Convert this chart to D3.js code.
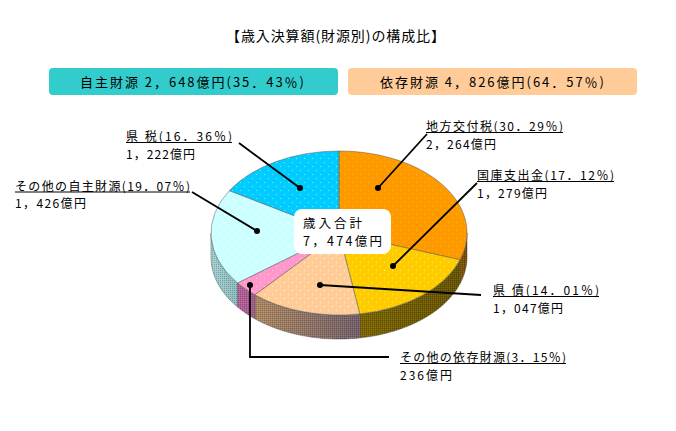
<!DOCTYPE html>
<html>
<head>
<meta charset="utf-8">
<script src="https://cdn.jsdelivr.net/npm/d3@7"></script>
<style>
  html, body { margin: 0; padding: 0; background: #fff; }
  svg { display: block; }
  text { font-family: "Noto Sans CJK JP", sans-serif; fill: #000; font-size: 12px; }
</style>
</head>
<body>
<svg width="676" height="431"></svg>
<script>
const categories = ["地方交付税", "国庫支出金", "県 債", "その他の依存財源", "その他の自主財源", "県 税"];
const amounts = [2264, 1279, 1047, 236, 1426, 1222];
const amountLabels = ["2，264億円", "1，279億円", "1，047億円", "236億円", "1，426億円", "1，222億円"];
const shareLabels = ["30．29％", "17．12％", "14．01％", "3．15％", "19．07％", "16．36％"];
const topColors = ["#ff9900", "#ffcc00", "#ffcc99", "#ff99cc", "#ccffff", "#00ccff"];
const dotColors = ["#ffc400", "#ffee55", "#ffffaa", "#ffccee", "#ffffff", "#88e6ff"];
const wallFrom = ["#8a5600", "#7c6500", "#ae8a62", "#b8609c", "#a2d2d2", "#0090b8"];
const wallTo = ["#6e4c00", "#665400", "#74606a", "#a85a90", "#8cbcc0", "#0090b8"];

const svg = d3.select("svg");
const cx = 339, cy = 233, rx = 128, ry = 82, depth = 24;

const defs = svg.append("defs");

// dotted fills for the top faces, undoing the squash of the pie group
topColors.forEach((c, i) => {
  const p = defs.append("pattern").attr("id", "top" + i)
    .attr("width", 8).attr("height", 8).attr("patternUnits", "userSpaceOnUse")
    .attr("patternTransform", `scale(1,${rx / ry})`);
  p.append("rect").attr("width", 8).attr("height", 8).attr("fill", c);
  p.append("rect").attr("x", 1).attr("y", 1).attr("width", 1).attr("height", 1).attr("fill", dotColors[i]);
  p.append("rect").attr("x", 5).attr("y", 5).attr("width", 1).attr("height", 1).attr("fill", dotColors[i]);
});

// checker dither laid over the wall colours
const dither = defs.append("pattern").attr("id", "dither")
  .attr("width", 2).attr("height", 2).attr("patternUnits", "userSpaceOnUse");
dither.append("rect").attr("width", 1).attr("height", 1).attr("fill", "#000").attr("opacity", 0.2);
dither.append("rect").attr("x", 1).attr("y", 1).attr("width", 1).attr("height", 1).attr("fill", "#fff").attr("opacity", 0.1);

const pie = d3.pie().sort(null);
const slices = pie(amounts);
const arc = d3.arc().innerRadius(0).outerRadius(rx);

// point on the rim of the top ellipse, angle from 12 o'clock clockwise
const rim = (a, dy) => [cx + rx * Math.sin(a), cy - ry * Math.cos(a) + dy];

// wall, only the part of each slice facing the viewer
const wall = svg.append("g");
slices.forEach((s, i) => {
  const a0 = Math.max(s.startAngle, Math.PI / 2);
  const a1 = Math.min(s.endAngle, Math.PI * 1.5);
  if (a1 <= a0) return;
  const steps = d3.range(0, 41).map(k => a0 + (a1 - a0) * k / 40);
  const pts = steps.map(a => rim(a, 0)).concat(steps.slice().reverse().map(a => rim(a, depth)));
  const d = d3.line()(pts) + "Z";
  const g = defs.append("linearGradient").attr("id", "wall" + i)
    .attr("gradientUnits", "userSpaceOnUse")
    .attr("x1", rim(a1, 0)[0]).attr("x2", rim(a0, 0)[0]).attr("y1", 0).attr("y2", 0);
  g.append("stop").attr("offset", 0).attr("stop-color", wallFrom[i]);
  g.append("stop").attr("offset", 1).attr("stop-color", wallTo[i]);
  wall.append("path").attr("d", d).attr("fill", `url(#wall${i})`)
    .attr("stroke", "#555").attr("stroke-width", 0.5);
  wall.append("path").attr("d", d).attr("fill", "url(#dither)");
});

// top faces
svg.append("g")
  .attr("transform", `translate(${cx},${cy}) scale(1,${ry / rx})`)
  .selectAll("path")
  .data(slices)
  .enter().append("path")
  .attr("d", arc)
  .attr("fill", (d, i) => `url(#top${i})`)
  .attr("stroke", "#555")
  .attr("stroke-width", 0.6);

// text spaced out to the width it has in the picture
function label(x, y, w, str, size) {
  return svg.append("text").attr("x", x).attr("y", y)
    .attr("textLength", w).attr("lengthAdjust", "spacing")
    .style("font-size", (size || 12) + "px").text(str);
}

// title and the two source boxes
label(226, 41, 219, "【歳入決算額(財源別)の構成比】", 14);

const boxes = [
  { x: 49, w: 289, fill: "#33cccc", tx: 80, label: "自主財源 2，648億円(35．43％)" },
  { x: 348, w: 289, fill: "#ffcc99", tx: 380, label: "依存財源 4，826億円(64．57％)" }
];
boxes.forEach(b => {
  svg.append("rect").attr("x", b.x).attr("y", 68).attr("width", b.w).attr("height", 27)
    .attr("rx", 4).attr("fill", b.fill);
  label(b.tx, 87, 224, b.label, 13);
});

// leader lines and labels
const labels = [
  { x: 426, y: 131, w: 137, aw: 70, dot: [378, 188], path: [[427, 134], [378, 188]] },
  { x: 477, y: 180, w: 137, aw: 70, dot: [393, 266], path: [[477, 183], [393, 266]] },
  { x: 493, y: 295, w: 106, aw: 70, dot: [320, 285], path: [[481, 295], [320, 285]] },
  { x: 400, y: 362, w: 166, aw: 52, dot: [250, 285], path: [[389, 357], [250, 357], [250, 285]] },
  { x: 15, y: 190.5, w: 175, aw: 71, dot: [257, 231], path: [[192, 192], [257, 231]] },
  { x: 126, y: 141, w: 106, aw: 69, dot: [300, 188], path: [[239, 143], [300, 188]] }
];
const lineGen = d3.line();
labels.forEach((l, i) => {
  svg.append("path").attr("d", lineGen(l.path)).attr("fill", "none")
    .attr("stroke", "#000").attr("stroke-width", 1.8);
  svg.append("circle").attr("cx", l.dot[0]).attr("cy", l.dot[1]).attr("r", 3).attr("fill", "#000");
  label(l.x, l.y, l.w, `${categories[i]}(${shareLabels[i]})`);
  svg.append("line").attr("x1", l.x).attr("x2", l.x + l.w)
    .attr("y1", l.y + 1.5).attr("y2", l.y + 1.5).attr("stroke", "#000");
  label(l.x, l.y + 17.5, l.aw, amountLabels[i]);
});

// centre total
svg.append("rect").attr("x", 294).attr("y", 209).attr("width", 97).attr("height", 45)
  .attr("rx", 8).attr("fill", "#fff");
label(303, 227.5, 59, "歳入合計", 12.5);
label(303, 246, 79, "7，474億円", 12.5);
</script>
</body>
</html>
